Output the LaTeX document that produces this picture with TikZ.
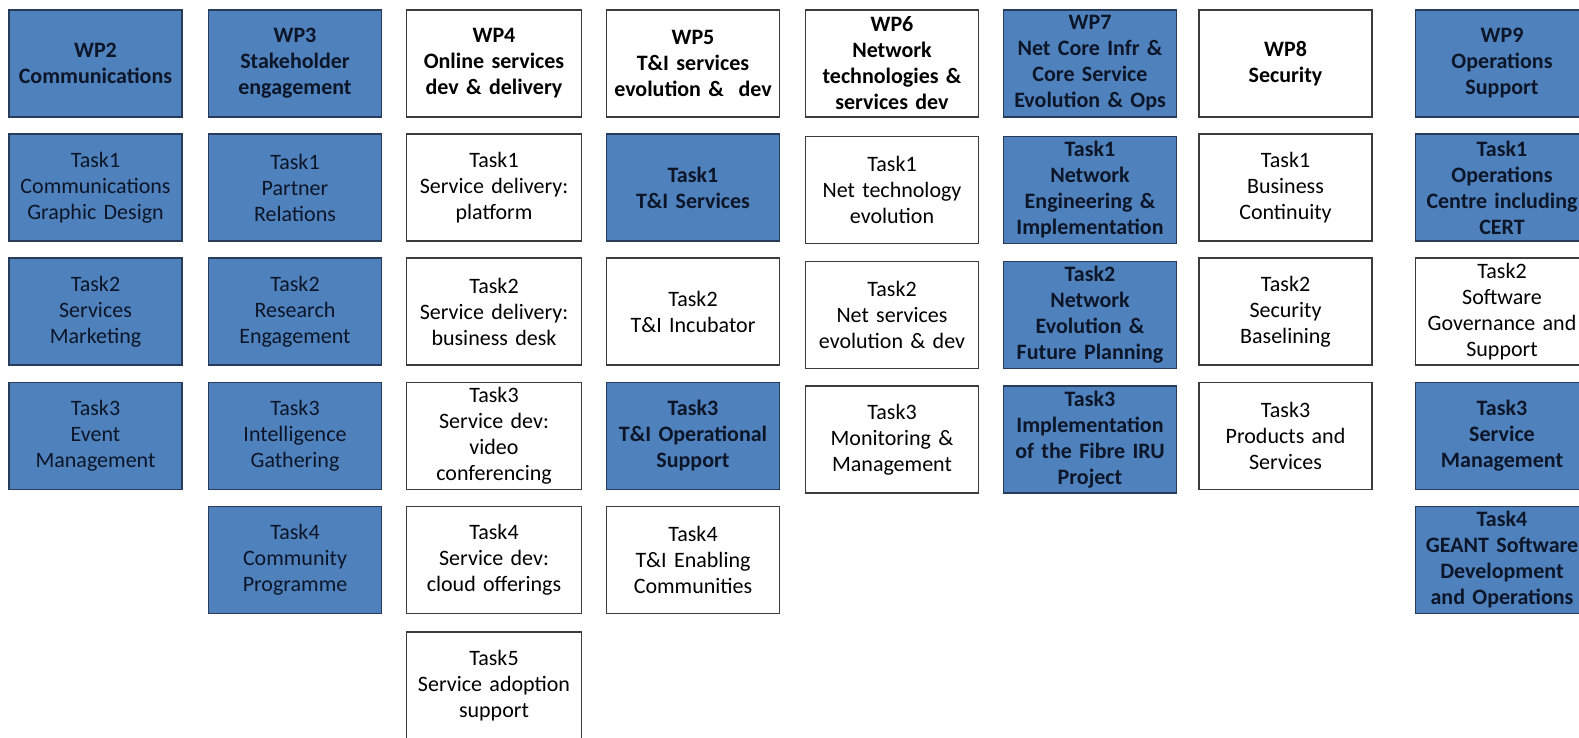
\documentclass[tikz,border=0pt]{standalone}
\usepackage{fontspec}
\setmainfont{Carlito}
\definecolor{wpblue}{RGB}{79,129,189}
\definecolor{wpborder}{RGB}{40,60,90}
\definecolor{wpgray}{RGB}{60,60,60}
\definecolor{wptext}{RGB}{12,22,40}
\newcommand{\boxfont}{\fontsize{22}{26}\selectfont}
\tikzset{
  wpbox/.style={draw, line width=1.6pt, minimum width=173pt, minimum height=107pt,
    inner sep=0pt, align=center, text width=172pt, font=\boxfont},
  bluebox/.style={wpbox, fill=wpblue, draw=wpborder, text=wptext},
  whitebox/.style={wpbox, fill=white, draw=wpgray, text=black},
  hb/.style={font=\boxfont\bfseries}
}
\begin{document}
\begin{tikzpicture}[x=1pt,y=1pt]
\useasboundingbox (0,0) rectangle (1579,-737);
\clip (0,0) rectangle (1579,-737);
% WP2
\node[bluebox,hb] (wp2) at (95.5,-63.5) {WP2\\Communications};
\node[bluebox] (wp2t1) at (95.5,-187.5) {Task1\\Communications\\Graphic Design};
\node[bluebox] (wp2t2) at (95.5,-311.5) {Task2\\Services\\Marketing};
\node[bluebox] (wp2t3) at (95.5,-436) {Task3\\Event\\Management};
% WP3
\node[bluebox,hb] (wp3) at (295,-63.5) {WP3\\Stakeholder\\engagement};
\node[bluebox] (wp3t1) at (295,-187.5) {Task1\\Partner\\Relations};
\node[bluebox] (wp3t2) at (295,-311.5) {Task2\\Research\\Engagement};
\node[bluebox] (wp3t3) at (295,-436) {Task3\\Intelligence\\Gathering};
\node[bluebox] (wp3t4) at (295,-560) {Task4\\Community\\Programme};
% WP4
\node[whitebox,hb,minimum width=175pt] (wp4) at (494,-63.5) {WP4\\Online services\\dev \& delivery};
\node[whitebox,minimum width=175pt] (wp4t1) at (494,-187.5) {Task1\\Service delivery:\\platform};
\node[whitebox,minimum width=175pt] (wp4t2) at (494,-311.5) {Task2\\Service delivery:\\business desk};
\node[whitebox,minimum width=175pt] (wp4t3) at (494,-436) {Task3\\Service dev:\\video\\conferencing};
\node[whitebox,minimum width=175pt] (wp4t4) at (494,-560) {Task4\\Service dev:\\cloud offerings};
\node[whitebox,minimum width=175pt] (wp4t5) at (494,-685.5) {Task5\\Service adoption\\support};
% WP5
\node[whitebox,hb] (wp5) at (693,-63.5) {WP5\\T\&I services\\evolution \& \ dev};
\node[bluebox,hb] (wp5t1) at (693,-187.5) {Task1\\T\&I Services};
\node[whitebox] (wp5t2) at (693,-311.5) {Task2\\T\&I Incubator};
\node[bluebox,hb] (wp5t3) at (693,-436) {Task3\\T\&I Operational\\Support};
\node[whitebox] (wp5t4) at (693,-560) {Task4\\T\&I Enabling\\Communities};
% WP6
\node[whitebox,hb] (wp6) at (892,-63.5) {WP6\\Network\\technologies \&\\services dev};
\node[whitebox] (wp6t1) at (892,-190) {Task1\\Net technology\\evolution};
\node[whitebox] (wp6t2) at (892,-315) {Task2\\Net services\\evolution \& dev};
\node[whitebox] (wp6t3) at (892,-439.5) {Task3\\Monitoring \&\\Management};
% WP7
\node[bluebox,hb] (wp7) at (1090,-63.5) {WP7\\Net Core Infr \&\\Core Service\\Evolution \& Ops};
\node[bluebox,hb] (wp7t1) at (1090,-190) {Task1\\Network\\Engineering \&\\Implementation};
\node[bluebox,hb] (wp7t2) at (1090,-315) {Task2\\Network\\Evolution \&\\Future Planning};
\node[bluebox,hb] (wp7t3) at (1090,-439.5) {Task3\\Implementation\\of the Fibre IRU\\Project};
% WP8
\node[whitebox,hb] (wp8) at (1285.5,-63.5) {WP8\\Security};
\node[whitebox] (wp8t1) at (1285.5,-187.5) {Task1\\Business\\Continuity};
\node[whitebox] (wp8t2) at (1285.5,-311.5) {Task2\\Security\\Baselining};
\node[whitebox] (wp8t3) at (1285.5,-436) {Task3\\Products and\\Services};
% WP9
\node[bluebox,hb] (wp9) at (1502,-63.5) {WP9\\Operations\\Support};
\node[bluebox,hb] (wp9t1) at (1502,-187.5) {Task1\\Operations\\Centre including\\CERT};
\node[whitebox] (wp9t2) at (1502,-311.5) {Task2\\Software\\Governance and\\Support};
\node[bluebox,hb] (wp9t3) at (1502,-436) {Task3\\Service\\Management};
\node[bluebox,hb] (wp9t4) at (1502,-560) {Task4\\GEANT Software\\Development\\and Operations};
\end{tikzpicture}
\end{document}
